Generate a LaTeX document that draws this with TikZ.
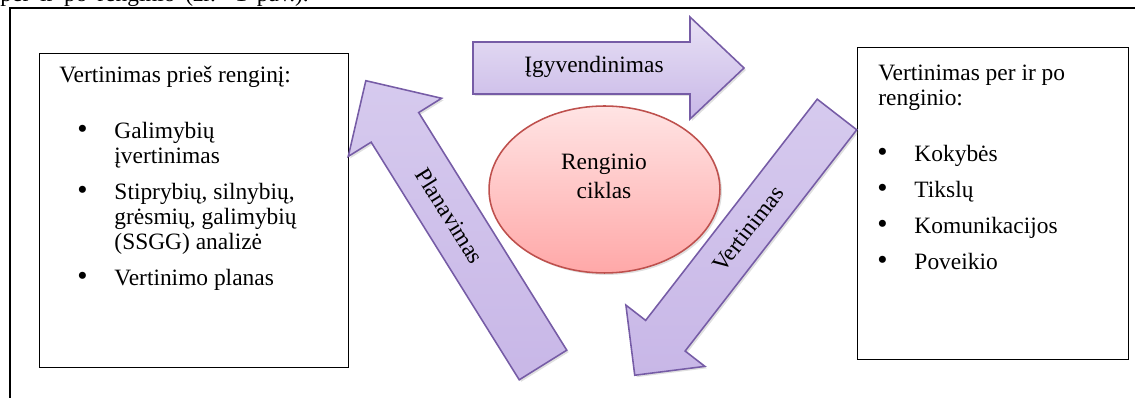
\documentclass[tikz,border=0pt]{standalone}
\usepackage{fontspec}
\setmainfont{Liberation Serif}
\usetikzlibrary{shapes.geometric,shadows}
\definecolor{ciklasLightPurple}{RGB}{232,225,245}
\definecolor{ciklasMidPurple}{RGB}{214,202,238}
\definecolor{ciklasPurple}{RGB}{200,183,231}
\definecolor{ciklasDarkPurple}{RGB}{118,92,166}
\definecolor{ciklasLightRed}{RGB}{255,228,228}
\definecolor{ciklasRed}{RGB}{255,168,168}
\definecolor{ciklasDarkRed}{RGB}{190,80,77}
\newcommand{\bodyfont}{\fontsize{12}{12.8}\selectfont}
\newcommand{\bul}{{\fontsize{15}{12.8}\selectfont\textbullet}}

\begin{document}
\begin{tikzpicture}[
  x=0.018cm,y=-0.018cm,
  infobox/.style={
    draw,
    line width=0.6pt,
    anchor=north west,
    inner sep=0pt
  },
  listtext/.style={anchor=base west,inner sep=0pt,font=\bodyfont},
  arrowlabel/.style={inner sep=0pt,font=\bodyfont},
  blockarrow/.style={
    draw=ciklasDarkPurple,
    line width=0.8pt,
    top color=ciklasLightPurple,
    bottom color=ciklasPurple,
    drop shadow={shadow xshift=1pt,shadow yshift=-1pt,opacity=0.25}
  },
  tiltarrow/.style={
    blockarrow,
    top color=ciklasMidPurple,
    bottom color=ciklasPurple
  },
  cycleshape/.style={
    ellipse,
    draw=ciklasDarkRed,
    line width=0.8pt,
    top color=ciklasLightRed,
    bottom color=ciklasRed,
    minimum width=4.158cm,
    minimum height=3.006cm,
    inner sep=0pt,
    drop shadow={shadow xshift=1pt,shadow yshift=-1pt,opacity=0.25}
  }
]
  \useasboundingbox (0,0) rectangle (1135,398);

  % page text and frame
  \node[listtext] (pagetext) at (0,2)
    {\makebox[158pt][s]{per ir po renginio (žr. 1 pav.).}};
  \draw[line width=0.8pt] (1135,8) -- (10,8) -- (10,398);

  % left box
  \node[infobox,minimum width=5.562cm,minimum height=5.652cm] (prebox) at (39,53) {};
  \node[listtext] (pretitle) at (59,83) {Vertinimas prieš renginį:};
  \node[listtext] (prelist) at (77,139) {\begin{tabular}[t]{@{}p{19pt}@{}l@{}}
    \bul & Galimybių\\
         & įvertinimas\\[5.6pt]
    \bul & Stiprybių, silnybių,\\
         & grėsmių, galimybių\\
         & (SSGG) analizė\\[5.6pt]
    \bul & Vertinimo planas
  \end{tabular}};

  % right box
  \node[infobox,minimum width=4.878cm,minimum height=5.616cm] (postbox) at (857,47) {};
  \node[listtext] (posttitle) at (878,81) {\begin{tabular}[t]{@{}l@{}}
    Vertinimas per ir po\\
    renginio:
  \end{tabular}};
  \node[listtext] (postlist) at (877,162) {\begin{tabular}[t]{@{}p{19pt}@{}l@{}}
    \bul & Kokybės\\[5.6pt]
    \bul & Tikslų\\[5.6pt]
    \bul & Komunikacijos\\[5.6pt]
    \bul & Poveikio
  \end{tabular}};

  % cycle in the middle
  \node[cycleshape] (cycle) at (604.5,189.5) {};
  \node[arrowlabel,anchor=base] (cycletext) at (604,170) {\begin{tabular}[t]{@{}c@{}}
    Renginio\\[2pt]
    ciklas
  \end{tabular}};

  % block arrows
  \begin{scope}[shift={(473,68)}]
    \draw[blockarrow] (0,-26) -- (217,-26) -- (217,-51) -- (271,0)
      -- (217,51) -- (217,26) -- (0,26) -- cycle;
  \end{scope}
  \node[arrowlabel,anchor=base] (impl) at (594,73) {Įgyvendinimas};

  \begin{scope}[shift={(543,365)},rotate=121.93]
    \draw[tiltarrow] (0,-28) -- (280,-28) -- (280,-55) -- (335,0)
      -- (280,55) -- (280,28) -- (0,28) -- cycle;
    \node[arrowlabel,rotate=-58.07] (plan) at (176,0) {Planavimas};
  \end{scope}

  \begin{scope}[shift={(837,114.5)},rotate=232.2]
    \draw[tiltarrow] (0,-25) -- (280,-25) -- (280,-50) -- (330,0)
      -- (280,50) -- (280,25) -- (0,25) -- cycle;
    \node[arrowlabel,rotate=52.2] (eval) at (145,0) {Vertinimas};
  \end{scope}
\end{tikzpicture}
\end{document}
